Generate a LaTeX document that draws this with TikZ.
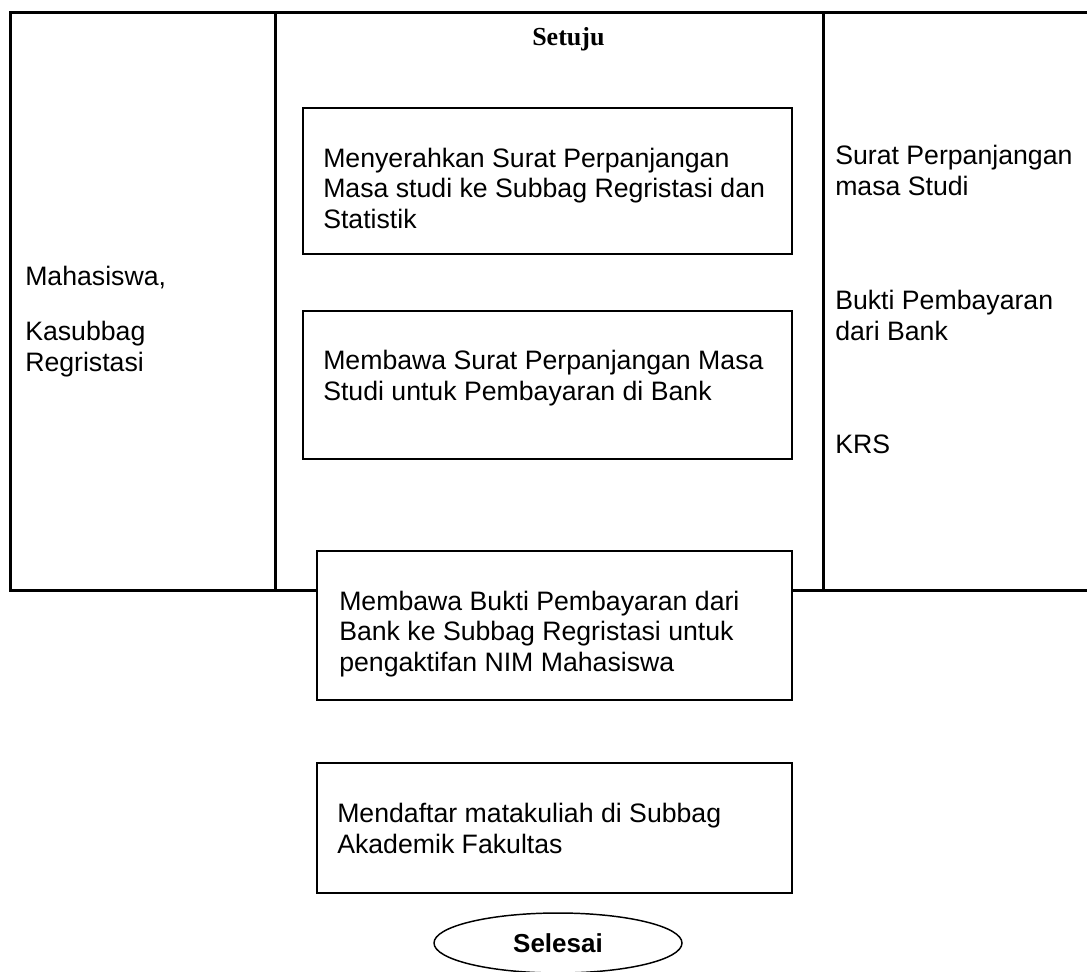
\documentclass[tikz,border=0pt]{standalone}
\usepackage{fontspec}
\setmainfont{Liberation Sans}
\newfontfamily\serifbold{Liberation Serif}
\usetikzlibrary{shapes.geometric}
\begin{document}
\begin{tikzpicture}[x=0.75pt,y=-0.75pt,
  tablerule/.style={line width=2.25pt},
  stepbox/.style={draw, line width=1.5pt, fill=white, inner sep=0pt},
  lbl/.style={anchor=base west, inner sep=0pt, align=left, font=\fontsize{20pt}{22.8pt}\selectfont},
  endbox/.style={draw, ellipse, line width=1.1pt, fill=white, inner sep=0pt, font=\fontsize{19.5pt}{22.5pt}\selectfont\bfseries},
 ]
\useasboundingbox (0,0) rectangle (1087,971);
% table
\draw[tablerule] (1087,12) -- (10,12) -- (10,590) -- (1087,590);
\draw[tablerule] (275,12) -- (275,590);
\draw[tablerule] (823,12) -- (823,590);
% header
\node[anchor=base west, inner sep=0pt, font=\fontsize{19.5pt}{22.5pt}\serifbold\bfseries] (setuju) at (532,45) {Setuju};
% left column (anchor = baseline of last line)
\node[lbl] (aktor1) at (25,285) {Mahasiswa,};
\node[lbl] (aktor2) at (25,371) {Kasubbag\\Regristasi};
% right column
\node[lbl] (dok1) at (835,195) {Surat Perpanjangan\\masa Studi};
\node[lbl] (dok2) at (835,340) {Bukti Pembayaran\\dari Bank};
\node[lbl] (dok3) at (835,453) {KRS};
% boxes
\node[stepbox, minimum width=366.75pt, minimum height=109.5pt] (b1) at (547.5,181) {};
\node[stepbox, minimum width=366.75pt, minimum height=111pt] (b2) at (547.5,385) {};
\node[stepbox, minimum width=356.25pt, minimum height=111.75pt] (b3) at (554.5,625.5) {};
\node[stepbox, minimum width=356.25pt, minimum height=97.5pt] (b4) at (554.5,828) {};
% box texts
\node[lbl] (t1) at (323,228) {Menyerahkan Surat Perpanjangan\\Masa studi ke Subbag Regristasi dan\\Statistik};
\node[lbl] (t2) at (323,400) {Membawa Surat Perpanjangan Masa\\Studi untuk Pembayaran di Bank};
\node[lbl] (t3) at (339,671) {Membawa Bukti Pembayaran dari\\Bank ke Subbag Regristasi untuk\\pengaktifan NIM Mahasiswa};
\node[lbl] (t4) at (337,853) {Mendaftar matakuliah di Subbag\\Akademik Fakultas};
% end
\node[endbox, minimum width=186pt, minimum height=45pt] (selesai) at (558,943) {Selesai};
\end{tikzpicture}
\end{document}
